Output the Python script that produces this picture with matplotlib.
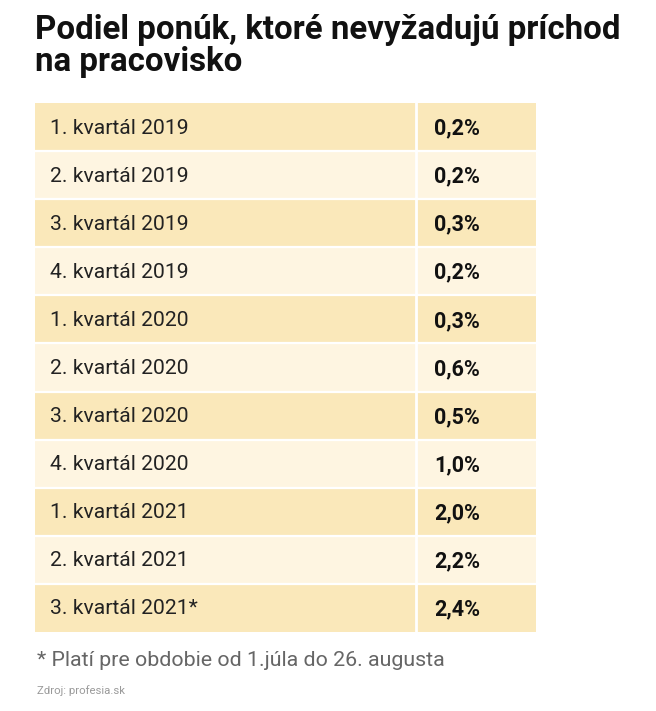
import matplotlib
matplotlib.use("Agg")
import matplotlib.pyplot as plt
from matplotlib.patches import Rectangle

# data
quarters = ["1. kvartál 2019", "2. kvartál 2019", "3. kvartál 2019", "4. kvartál 2019",
            "1. kvartál 2020", "2. kvartál 2020", "3. kvartál 2020", "4. kvartál 2020",
            "1. kvartál 2021", "2. kvartál 2021", "3. kvartál 2021*"]
shares = [0.2, 0.2, 0.3, 0.2, 0.3, 0.6, 0.5, 1.0, 2.0, 2.2, 2.4]

title_lines = ["Podiel ponúk, ktoré nevyžadujú príchod", "na pracovisko"]
footnote = "* Platí pre obdobie od 1.júla do 26. augusta"
source = "Zdroj: profesia.sk"

W, H = 656, 711
DARK = "#FAE8BA"
LIGHT = "#FEF5E1"
FONT = "Roboto"

fig = plt.figure(figsize=(W / 100, H / 100), dpi=100)
ax = fig.add_axes([0, 0, 1, 1])
ax.set_xlim(0, W)
ax.set_ylim(H, 0)
ax.axis("off")

# title, two lines
for line, base in zip(title_lines, [39, 71]):
    ax.text(35, base, line, fontfamily=FONT, fontweight="bold", fontsize=23.8,
            color="#111111", va="baseline", ha="left")

# table
top, bottom = 103, 632
left, mid, right = 35, 416, 536
row_h = (bottom - top) / len(quarters)
for i, (q, s) in enumerate(zip(quarters, shares)):
    y0 = top + i * row_h
    color = DARK if i % 2 == 0 else LIGHT
    ax.add_patch(Rectangle((left, y0), right - left, row_h, facecolor=color, edgecolor="none"))
    yc = y0 + row_h / 2 - 1
    ax.text(50, yc, q, fontfamily=FONT, fontsize=15.2, color="#222222",
            va="center_baseline", ha="left")
    ax.text(434, yc, f"{s:.1f}%".replace(".", ","), fontfamily=FONT,
            fontweight="bold", fontsize=15.5, color="#111111", va="center_baseline", ha="left")

# white cell borders
for i in range(1, len(quarters)):
    ax.plot([left, right], [top + i * row_h] * 2, color="white", lw=1.6)
ax.plot([mid, mid], [top, bottom], color="white", lw=2)

# notes
ax.text(37, 658, footnote, fontfamily=FONT, fontsize=15.4, color="#666666",
        va="center_baseline", ha="left")
ax.text(37, 690, source, fontfamily=FONT, fontsize=8.2, color="#9a9a9a",
        va="center_baseline", ha="left")

fig.savefig("out.png", dpi=100, facecolor="white")
